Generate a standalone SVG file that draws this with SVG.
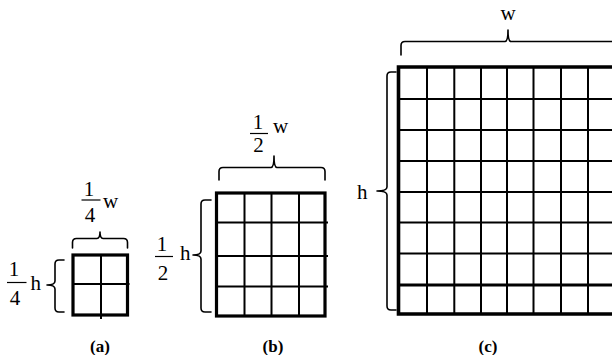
<svg xmlns="http://www.w3.org/2000/svg" width="612" height="355" viewBox="0 0 612 355">
<style>
.t{font-family:"Liberation Serif","Times New Roman",serif;font-size:21px;fill:#000}
.lab{font-family:"Liberation Serif","Times New Roman",serif;font-size:17px;font-weight:bold;fill:#000;text-anchor:middle}
.c{text-anchor:middle}
.outer{fill:none;stroke:#000;stroke-width:3.2}
.inner{stroke:#000;stroke-width:2;fill:none}
.brace{fill:none;stroke:#000;stroke-width:1.6;stroke-linejoin:round;stroke-linecap:round}
.bar{stroke:#000;stroke-width:1.2}
</style>
<rect width="612" height="355" fill="#fff"/>

<g id="grid-a">
  <path class="inner" d="M101 255V319M73 284H129.5"/>
  <rect class="outer" x="73" y="255" width="54.5" height="60"/>
</g>
<g id="grid-b">
  <path class="inner" d="M244.5 193V316M271.5 193V316M299 193V316M216.5 222.5H328M216.5 256H328M216.5 286.5H328"/>
  <rect class="outer" x="216.5" y="193" width="108.5" height="123"/>
</g>
<g id="grid-c">
  <path class="inner" d="M427 67V314M454.3 67V314M481 67V314M507 67V314M533.5 67V314M561 67V314M588 67V314M398.5 99H612M398.5 130H612M398.5 161H612M398.5 192H612M398.5 222.5H612M398.5 253.5H612"/>
  <path d="M398.5 285H612" stroke="#000" stroke-width="3" fill="none"/>
  <path d="M614 67H398.5V314H614" stroke="#000" stroke-width="3.6" fill="none"/>
</g>

<g id="connectors">
  <path class="brace" d="M72.5 248V242.5Q72.5 238.5 76.5 238.5H97Q100 238.5 100 232Q100 238.5 103 238.5H123.5Q127.5 238.5 127.5 242.5V248"/>
  <path class="brace" d="M64 260H59Q55 260 55 264V281Q55 285 47 285Q55 285 55 289V308Q55 312 59 312H64"/>
  <path class="brace" d="M219 180V171.5Q219 167.5 223 167.5H271Q274 167.5 274 156Q274 167.5 277 167.5H321Q325 167.5 325 171.5V180"/>
  <path class="brace" d="M211 200H205Q201 200 201 204V251Q201 255 193 255Q201 255 201 259V308Q201 312 205 312H211"/>
  <path class="brace" d="M401 55V45.5Q401 41.5 405 41.5H505Q508 41.5 508 30Q508 41.5 511 41.5H615"/>
  <path class="brace" d="M396 72H391Q387 72 387 76V187Q387 191 377 191Q387 191 387 195V306Q387 310 391 310H396"/>
</g>

<g id="label-a-w">
  <text class="t c" x="89" y="196">1</text>
  <line class="bar" x1="81.5" y1="200" x2="100.5" y2="200"/>
  <text class="t c" x="90" y="222">4</text>
  <text class="t" x="103" y="208">w</text>
</g>
<g id="label-a-h">
  <text class="t c" x="14" y="276">1</text>
  <line class="bar" x1="7" y1="282.5" x2="26.5" y2="282.5"/>
  <text class="t c" x="15" y="305">4</text>
  <text class="t" x="30.5" y="290">h</text>
</g>
<g id="label-b-w">
  <text class="t c" x="258" y="129">1</text>
  <line class="bar" x1="250" y1="133.5" x2="268" y2="133.5"/>
  <text class="t c" x="258.5" y="152">2</text>
  <text class="t" x="273" y="133">w</text>
</g>
<g id="label-b-h">
  <text class="t c" x="162" y="251">1</text>
  <line class="bar" x1="155" y1="256.5" x2="173" y2="256.5"/>
  <text class="t c" x="163" y="280">2</text>
  <text class="t" x="180" y="260">h</text>
</g>
<g id="label-c">
  <text class="t c" x="508" y="20">w</text>
  <text class="t" x="357" y="199">h</text>
</g>
<g id="captions">
  <text class="lab" x="100" y="352">(a)</text>
  <text class="lab" x="273" y="352">(b)</text>
  <text class="lab" x="488" y="352">(c)</text>
</g>
</svg>
